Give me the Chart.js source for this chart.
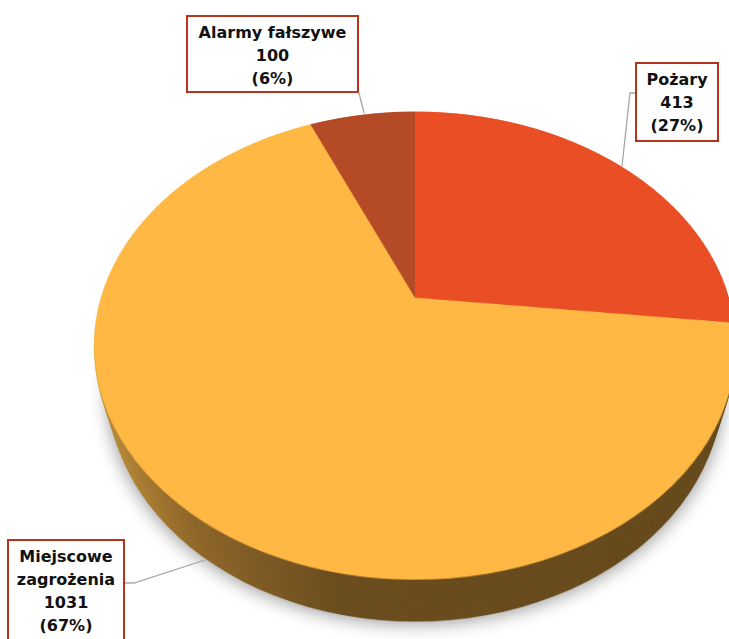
<!DOCTYPE html>
<html>
<head>
<meta charset="utf-8">
<script src="https://cdn.jsdelivr.net/npm/chart.js@4/dist/chart.umd.min.js"></script>
<style>
  html, body { margin: 0; padding: 0; background: #fff; overflow: hidden; width: 729px; height: 639px; }
  #scene { position: absolute; left: 101px; top: -16px; width: 628px; height: 628px; perspective: 1072px; }
  #disc { position: absolute; inset: 0; transform-style: preserve-3d; transform: rotateX(44.4deg); }
  .rim {
    position: absolute; inset: 0; border-radius: 50%;
    background: linear-gradient(to right, #c9973c 0%, #8f6628 20%, #6a4c1e 40%, #644719 100%);
  }
  .rim.last { box-shadow: 0 0 16px 2px rgba(0,0,0,0.4); }
  #top { position: absolute; inset: 0; transform: translateZ(0.5px); }
  #lines { position: absolute; left: 0; top: 0; }
  .lbl {
    position: absolute; box-sizing: border-box; border: 2px solid #b5341b; background: #fff;
    text-align: center; font-family: "DejaVu Sans", sans-serif; font-weight: bold;
    font-size: 16px; line-height: 23px; color: #111; padding-top: 4px;
  }
</style>
</head>
<body>
<div id="scene"><div id="disc"><div id="top"><canvas id="pie"></canvas></div></div></div>
<svg id="lines" width="729" height="639"></svg>
<div id="labels"></div>
<script>
const categories = ["Pożary", "Miejscowe zagrożenia", "Alarmy fałszywe"];
const values = [413, 1031, 100];
const colors = ["#e94e24", "#feb843", "#b54a27"];

// label boxes and their leader lines
const boxes = [
  { left: 635, top: 62, width: 84, height: 80, line: [[635, 93], [630, 93], [622, 166]] },
  { left: 7, top: 539, width: 118, height: 120, line: [[125, 583], [134, 583], [205, 560]] },
  { left: 186, top: 15, width: 173, height: 78, line: [[359, 93], [364, 113]] },
];

const DEPTH = 68; // thickness of the pie (layers behind the top face)

const total = values.reduce((a, b) => a + b, 0);

// side of the pie: stacked discs behind the chart
const disc = document.getElementById("disc");
for (let i = DEPTH; i >= 1; i--) {
  const layer = document.createElement("div");
  layer.className = "rim" + (i === DEPTH ? " last" : "");
  layer.style.transform = `translateZ(${-i}px)`;
  disc.insertBefore(layer, disc.firstChild);
}

new Chart(document.getElementById("pie"), {
  type: "pie",
  data: {
    labels: categories,
    datasets: [{ data: values, backgroundColor: colors, borderWidth: 0 }],
  },
  options: {
    responsive: true,
    maintainAspectRatio: false,
    animation: false,
    devicePixelRatio: 2,
    plugins: { legend: { display: false }, tooltip: { enabled: false } },
  },
});

document.getElementById("lines").innerHTML = boxes
  .map((b) => `<polyline points="${b.line.map((p) => p.join(",")).join(" ")}" fill="none" stroke="#a6a6a6" stroke-width="1.3"/>`)
  .join("");

document.getElementById("labels").innerHTML = categories
  .map((c, i) => {
    const b = boxes[i];
    const pct = Math.round((values[i] / total) * 100);
    return `<div class="lbl" style="left:${b.left}px;top:${b.top}px;width:${b.width}px;height:${b.height}px">${c}<br>${values[i]}<br>(${pct}%)</div>`;
  })
  .join("");
</script>
</body>
</html>
